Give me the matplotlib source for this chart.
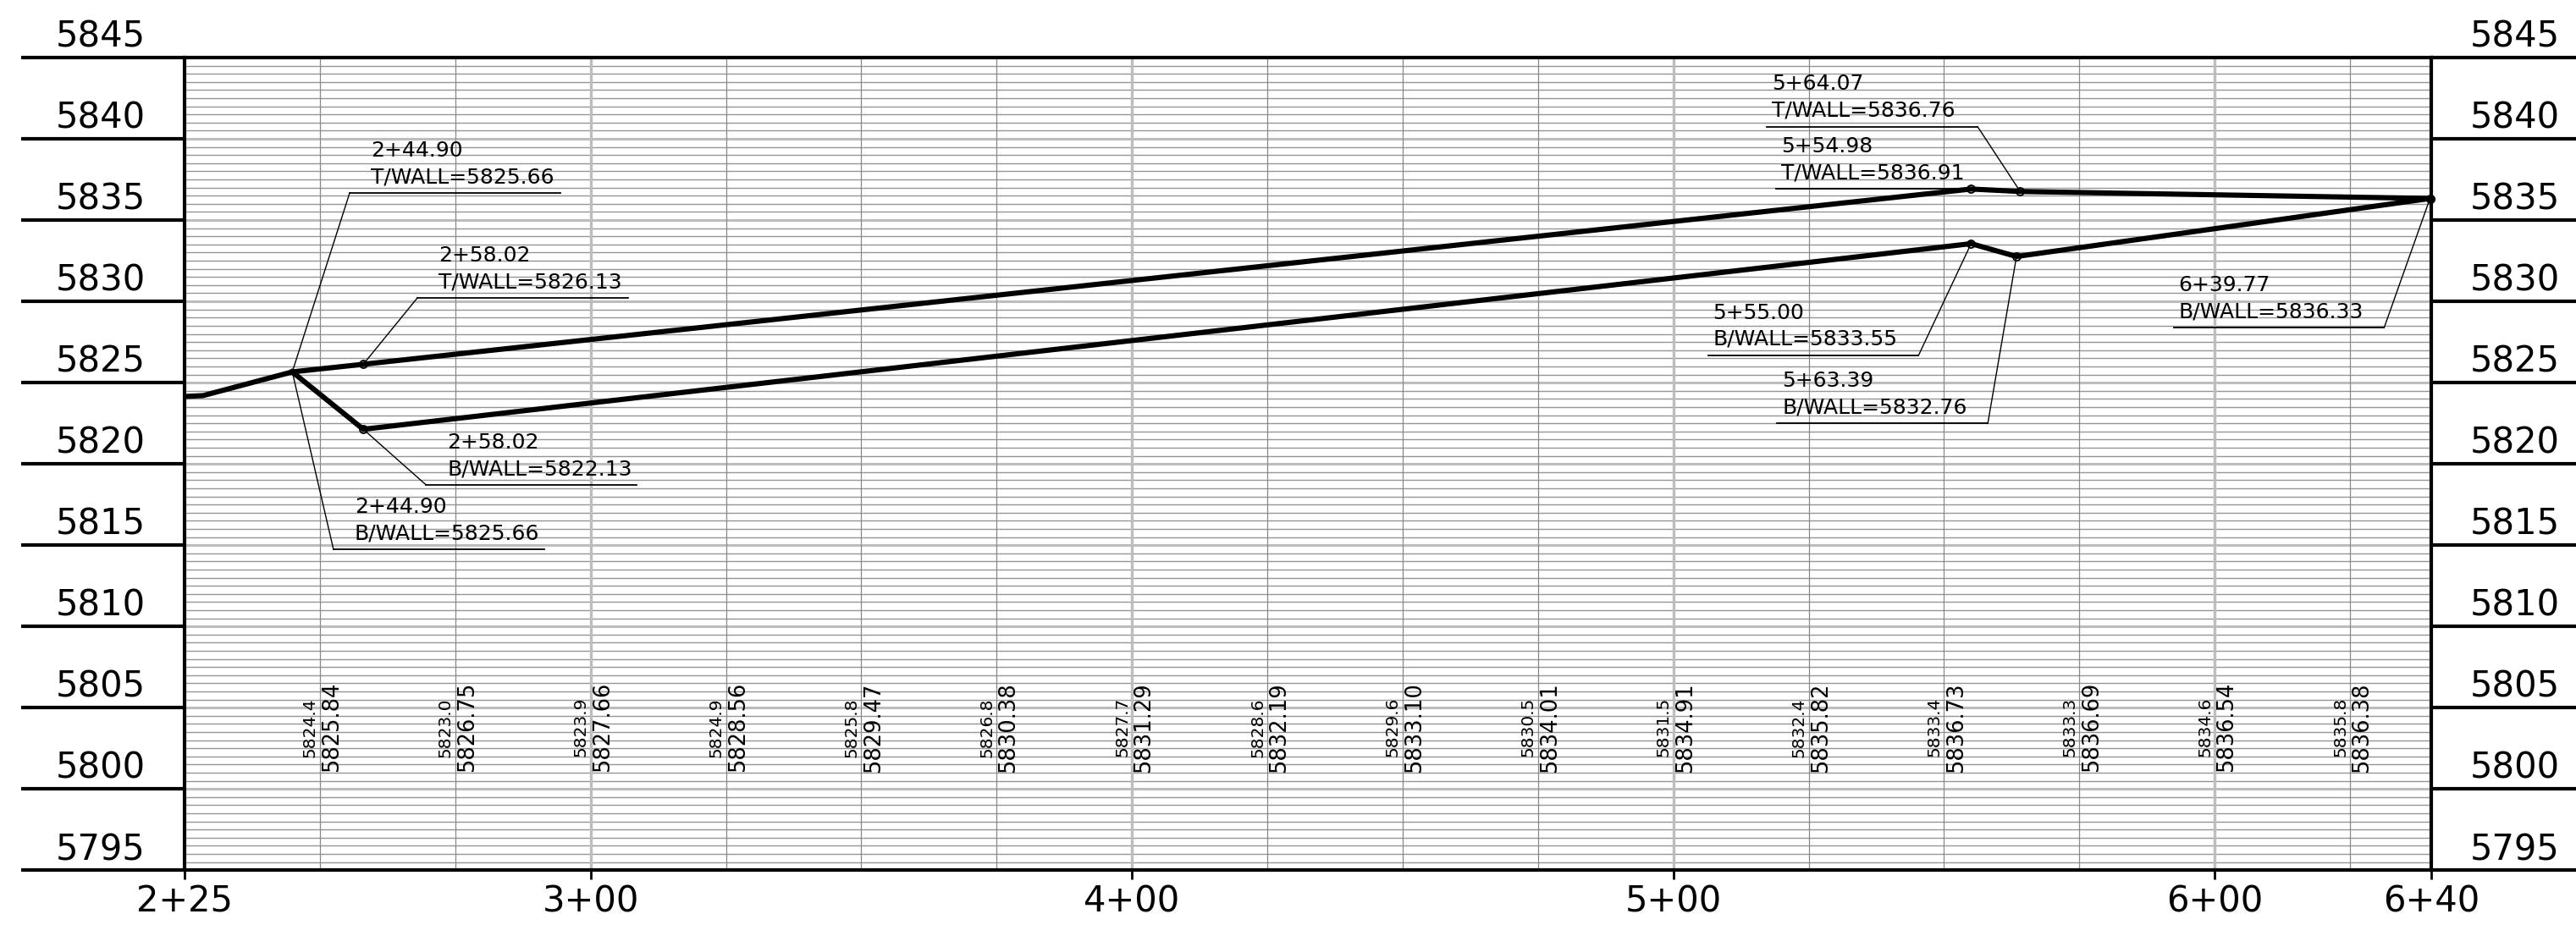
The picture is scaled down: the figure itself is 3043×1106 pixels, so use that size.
import matplotlib
matplotlib.use("Agg")
from matplotlib import pyplot as plt
import numpy as np

# station range (2+25 -> 225 ft) and elevation range
sta_min, sta_max = 225, 640
elev_min, elev_max = 5795, 5845

# top of wall / bottom of wall break points
top_sta = [244.90, 258.02, 554.98, 564.07, 639.77]
top_elev = [5825.66, 5826.13, 5836.91, 5836.76, 5836.33]
bot_sta = [244.90, 258.02, 555.00, 563.39, 639.77]
bot_elev = [5825.66, 5822.13, 5833.55, 5832.76, 5836.33]

# tie-in on the left end
tie_sta = [225.0, 228.4, 244.90]
tie_elev = [5824.15, 5824.20, 5825.66]

# values printed along the bottom every 25 ft
col_sta = [250, 275, 300, 325, 350, 375, 400, 425, 450, 475, 500, 525, 550, 575, 600, 625]
exist_elev = ["5824.4", "5823.0", "5823.9", "5824.9", "5825.8", "5826.8", "5827.7", "5828.6",
              "5829.6", "5830.5", "5831.5", "5832.4", "5833.4", "5833.3", "5834.6", "5835.8"]
prop_elev = ["5825.84", "5826.75", "5827.66", "5828.56", "5829.47", "5830.38", "5831.29", "5832.19",
             "5833.10", "5834.01", "5834.91", "5835.82", "5836.73", "5836.69", "5836.54", "5836.38"]

xtick_sta = [225, 300, 400, 500, 600, 640]

# callouts: (series, index, elbow station, elbow elevation, side, underline length)
callouts = [
    ("T", 0, 255.5, 5836.67, "left", 38.9),
    ("T", 1, 268.0, 5830.21, "left", 38.9),
    ("B", 1, 269.6, 5818.71, "left", 38.9),
    ("B", 0, 252.5, 5814.75, "left", 38.9),
    ("T", 3, 556.2, 5840.75, "right", 38.9),
    ("T", 2, 554.98, 5836.91, "right", 36.0),
    ("B", 2, 545.3, 5826.68, "right", 38.9),
    ("B", 3, 558.1, 5822.51, "right", 38.9),
    ("B", 4, 631.3, 5828.38, "right", 38.9),
]


def sta_label(s):
    s = round(s, 2)
    return "%d+%05.2f" % (int(s // 100), s - 100 * int(s // 100))


fig = plt.figure(figsize=(30.43, 11.06), dpi=100)
ax = fig.add_axes([218 / 3043, (1106 - 1028.3) / 1106, 2654 / 3043, (1028.3 - 68) / 1106])
ax.set_xlim(sta_min, sta_max)
ax.set_ylim(elev_min, elev_max)

# grid
for y in np.arange(elev_min + 0.5, elev_max, 0.5):
    if y % 5 == 0:
        ax.axhline(y, color="#bdbdbd", lw=2.2, zorder=1)
    else:
        ax.axhline(y, color="#959595", lw=1.0, zorder=1)
for x in range(250, sta_max, 25):
    if x % 100 == 0:
        ax.axvline(x, color="#bdbdbd", lw=2.4, zorder=1)
    else:
        ax.axvline(x, color="#8a8a8a", lw=0.9, zorder=1)

# wall lines
ax.plot(tie_sta, tie_elev, color="black", lw=4.4, zorder=4, solid_capstyle="butt")
ax.plot(top_sta, top_elev, color="black", lw=4.4, zorder=4)
ax.plot(bot_sta, bot_elev, color="black", lw=4.4, zorder=4)
ax.plot(top_sta[1:4], top_elev[1:4], "o", ms=6.5, mfc="none", mec="black", mew=1.3, zorder=5)
ax.plot(bot_sta[1:4], bot_elev[1:4], "o", ms=6.5, mfc="none", mec="black", mew=1.3, zorder=5)
ax.plot(top_sta[4], top_elev[4], "o", ms=7, color="black", zorder=9, clip_on=False)

# callouts
lab_fs = 18
for series, i, ex, ey, side, length in callouts:
    if series == "T":
        px, py, name = top_sta[i], top_elev[i], "T/WALL"
    else:
        px, py, name = bot_sta[i], bot_elev[i], "B/WALL"
    if side == "left":
        x0, x1 = ex, ex + length
        tx = ex + 3.9
    else:
        x0, x1 = ex - length, ex
        tx = x0 + 0.9
    ax.plot([px, ex], [py, ey], color="black", lw=1.0, zorder=6)
    ax.plot([x0, x1], [ey, ey], color="black", lw=1.3, zorder=6)
    ax.text(tx, ey + 0.62, "%s=%.2f" % (name, py), fontsize=lab_fs, ha="left", va="baseline", zorder=7)
    ax.text(tx, ey + 2.25, sta_label(px), fontsize=lab_fs, ha="left", va="baseline", zorder=7)

# bottom columns of elevations
for s, e, p in zip(col_sta, exist_elev, prop_elev):
    ax.text(s - 0.3, 5803.8, e, rotation=90, fontsize=14.5, ha="right", va="center", zorder=7)
    ax.text(s + 0.2, 5803.8, p, rotation=90, fontsize=18.5, ha="left", va="center", zorder=7)

# elevation labels on both sides
ytr = ax.get_yaxis_transform()
for y in range(elev_min, elev_max + 1, 5):
    ax.plot([-0.0727, 0], [y, y], color="black", lw=3.0, transform=ytr, clip_on=False,
            solid_capstyle="butt")
    ax.plot([1, 1.0645], [y, y], color="black", lw=3.0, transform=ytr, clip_on=False,
            solid_capstyle="butt")
    ax.text(-0.0373, y + 0.64, str(y), fontsize=30, ha="center", va="baseline", transform=ytr)
    ax.text(1.0373, y + 0.64, str(y), fontsize=30, ha="center", va="baseline", transform=ytr)

ax.set_yticks([])
ax.set_xticks(xtick_sta)
ax.set_xticklabels(["%d+%02d" % (s // 100, s % 100) for s in xtick_sta], fontsize=30)
ax.tick_params(axis="x", direction="out", length=8, width=2, pad=4)
for sp in ax.spines.values():
    sp.set_linewidth(3.0)
    sp.set_zorder(8)

fig.savefig("out.png", dpi=100)
